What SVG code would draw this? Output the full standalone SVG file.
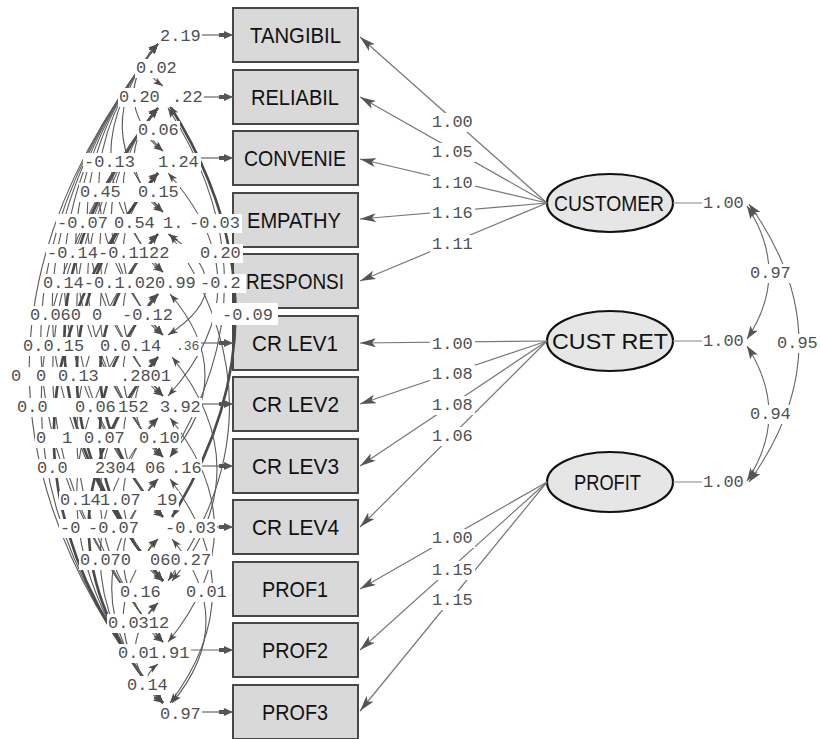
<svg xmlns="http://www.w3.org/2000/svg" width="820" height="739" viewBox="0 0 820 739">
<style>
.box{fill:#d9d9d9;stroke:#474747;stroke-width:2}
.lat{fill:#e6e6e6;stroke:#111;stroke-width:2.2}
.nt{font-family:"Liberation Sans",Arial,sans-serif;font-size:22px;fill:#111}
.arc{fill:none;stroke:#5c5c5c;stroke-width:1.1;marker-start:url(#ha);marker-end:url(#ha)}
.tk{stroke:#4a4a4a;stroke-width:2.6}
.ld{fill:none;stroke:#777;stroke-width:1.2;marker-end:url(#hl)}
.var{stroke:#666;stroke-width:1.2;marker-end:url(#hv)}
.stub{stroke:#9a9a9a;stroke-width:1.2}
.dbl{fill:none;stroke:#666;stroke-width:1.1;marker-start:url(#hd);marker-end:url(#hd)}
.num{font-family:"Liberation Mono","DejaVu Sans Mono",monospace;font-size:17px;fill:#505050}
.bg{fill:#fff}
</style>
<defs>
<marker id="ha" viewBox="0 0 10 7" refX="10" refY="3.5" markerWidth="10" markerHeight="7" markerUnits="userSpaceOnUse" orient="auto-start-reverse"><path d="M0,0 L10,3.5 L0,7 L2.5,3.5 z" fill="#4d4d4d"/></marker>
<marker id="hl" viewBox="0 0 16 9" refX="16" refY="4.5" markerWidth="16" markerHeight="9" markerUnits="userSpaceOnUse" orient="auto"><path d="M0,0 L16,4.5 L0,9 L4,4.5 z" fill="#555"/></marker>
<marker id="hv" viewBox="0 0 14 8" refX="14" refY="4" markerWidth="14" markerHeight="8" markerUnits="userSpaceOnUse" orient="auto"><path d="M0,2 H5 V0 L14,4 L5,8 V6 H0 z" fill="#555"/></marker>
<marker id="hd" viewBox="0 0 13 9" refX="13" refY="4.5" markerWidth="13" markerHeight="9" markerUnits="userSpaceOnUse" orient="auto-start-reverse"><path d="M0,0 L13,4.5 L0,9 L3,4.5 z" fill="#555"/></marker>
</defs>

<!-- observed indicators -->
<g id="n-tangibil"><rect class="box" x="233" y="8" width="125" height="54"/><text class="nt" x="250" y="43" textLength="91" lengthAdjust="spacingAndGlyphs">TANGIBIL</text></g>
<g id="n-reliabil"><rect class="box" x="233" y="70" width="125" height="54"/><text class="nt" x="251" y="105" textLength="88" lengthAdjust="spacingAndGlyphs">RELIABIL</text></g>
<g id="n-convenie"><rect class="box" x="233" y="131" width="125" height="54"/><text class="nt" x="244" y="166" textLength="102" lengthAdjust="spacingAndGlyphs">CONVENIE</text></g>
<g id="n-empathy"><rect class="box" x="233" y="193" width="125" height="54"/><text class="nt" x="247" y="228" textLength="94" lengthAdjust="spacingAndGlyphs">EMPATHY</text></g>
<g id="n-responsi"><rect class="box" x="233" y="254" width="125" height="54"/><text class="nt" x="246" y="289" textLength="98" lengthAdjust="spacingAndGlyphs">RESPONSI</text></g>
<g id="n-crlev1"><rect class="box" x="233" y="316" width="125" height="54"/><text class="nt" x="252" y="351" textLength="86" lengthAdjust="spacingAndGlyphs">CR LEV1</text></g>
<g id="n-crlev2"><rect class="box" x="233" y="377" width="125" height="54"/><text class="nt" x="252" y="412" textLength="87" lengthAdjust="spacingAndGlyphs">CR LEV2</text></g>
<g id="n-crlev3"><rect class="box" x="233" y="439" width="125" height="54"/><text class="nt" x="252" y="474" textLength="87" lengthAdjust="spacingAndGlyphs">CR LEV3</text></g>
<g id="n-crlev4"><rect class="box" x="233" y="500" width="125" height="54"/><text class="nt" x="252" y="535" textLength="87" lengthAdjust="spacingAndGlyphs">CR LEV4</text></g>
<g id="n-prof1"><rect class="box" x="233" y="562" width="125" height="54"/><text class="nt" x="262" y="597" textLength="66" lengthAdjust="spacingAndGlyphs">PROF1</text></g>
<g id="n-prof2"><rect class="box" x="233" y="623" width="125" height="54"/><text class="nt" x="262" y="658" textLength="66" lengthAdjust="spacingAndGlyphs">PROF2</text></g>
<g id="n-prof3"><rect class="box" x="233" y="685" width="125" height="54"/><text class="nt" x="262" y="720" textLength="66" lengthAdjust="spacingAndGlyphs">PROF3</text></g>

<!-- latent factors -->
<g id="n-customer"><ellipse class="lat" cx="610" cy="203" rx="63" ry="29"/><text class="nt" x="554" y="211" textLength="110" lengthAdjust="spacingAndGlyphs">CUSTOMER</text></g>
<g id="n-custret"><ellipse class="lat" cx="610" cy="341" rx="63" ry="30"/><text class="nt" x="552" y="349" textLength="116" lengthAdjust="spacingAndGlyphs">CUST RET</text></g>
<g id="n-profit"><ellipse class="lat" cx="610" cy="482" rx="63" ry="30"/><text class="nt" x="574" y="490" textLength="67" lengthAdjust="spacingAndGlyphs">PROFIT</text></g>

<g id="connectors">
<!-- error covariances, left side -->
<path class="arc" d="M158 44 Q132 65 163 86"/>
<path class="arc" d="M158 44 Q107 97 163 151"/>
<path class="arc" d="M158 44 Q84 128 163 212"/>
<path class="arc" d="M158 44 Q61 158 163 272"/>
<path class="arc" d="M158 44 Q37 190 163 335"/>
<path class="arc" d="M158 44 Q14 220 163 396"/>
<path class="arc" d="M158 44 Q-9 250 163 457"/>
<path class="arc" d="M158 44 Q-32 280 163 517"/>
<path class="arc" d="M158 44 Q-56 312 163 581"/>
<path class="arc" d="M158 44 Q-79 343 163 642"/>
<path class="arc" d="M158 44 Q-102 373 163 703"/>
<path class="arc" d="M158 108 Q132 130 163 151"/>
<path class="arc" d="M158 108 Q108 160 163 212"/>
<path class="arc" d="M158 108 Q86 190 163 272"/>
<path class="arc" d="M158 108 Q62 221 163 335"/>
<path class="arc" d="M158 108 Q39 252 163 396"/>
<path class="arc" d="M158 108 Q15 282 163 457"/>
<path class="arc" d="M158 108 Q-7 312 163 517"/>
<path class="arc tk" d="M158 108 Q-32 344 163 581"/>
<path class="arc" d="M158 108 Q-55 375 163 642"/>
<path class="arc" d="M158 108 Q-78 405 163 703"/>
<path class="arc" d="M158 173 Q133 192 163 212"/>
<path class="arc" d="M158 173 Q86 254 163 335"/>
<path class="arc" d="M158 173 Q40 315 163 457"/>
<path class="arc tk" d="M158 173 Q-7 377 163 581"/>
<path class="arc tk" d="M158 173 Q-53 438 163 703"/>
<path class="arc" d="M158 234 Q134 253 163 272"/>
<path class="arc" d="M158 234 Q86 315 163 396"/>
<path class="arc tk" d="M158 234 Q40 375 163 517"/>
<path class="arc" d="M158 234 Q-7 438 163 642"/>
<path class="arc" d="M158 294 Q132 314 163 335"/>
<path class="arc" d="M158 294 Q86 375 163 457"/>
<path class="arc tk" d="M158 294 Q39 437 163 581"/>
<path class="arc" d="M158 294 Q-7 498 163 703"/>
<path class="arc" d="M158 357 Q133 376 163 396"/>
<path class="arc" d="M158 357 Q110 407 163 457"/>
<path class="arc" d="M158 357 Q87 437 163 517"/>
<path class="arc" d="M158 357 Q40 500 163 642"/>
<path class="arc tk" d="M158 357 Q17 530 163 703"/>
<path class="arc" d="M158 418 Q133 437 163 457"/>
<path class="arc" d="M158 418 Q86 500 163 581"/>
<path class="arc" d="M158 418 Q40 560 163 703"/>
<path class="arc" d="M158 479 Q134 498 163 517"/>
<path class="arc" d="M158 479 Q86 560 163 642"/>
<path class="arc" d="M158 479 Q63 591 163 703"/>
<path class="arc" d="M158 539 Q132 560 163 581"/>
<path class="arc" d="M158 539 Q86 621 163 703"/>
<path class="arc" d="M158 603 Q133 622 163 642"/>
<path class="arc" d="M158 603 Q110 653 163 703"/>
<path class="arc" d="M158 664 Q133 683 163 703"/>
<!-- error covariances bowing right -->
<path class="arc tk" d="M170 106 Q300 312 172 517"/>
<path class="arc" d="M168 108 Q280 282 170 457"/>
<path class="arc" d="M168 173 Q268 285 168 396"/>
<path class="arc" d="M168 234 Q245 285 168 335"/>
<path class="arc" d="M170 234 Q290 408 168 581"/>
<path class="arc" d="M170 294 Q240 375 170 457"/>
<path class="arc" d="M172 357 Q262 469 172 581"/>
<path class="arc" d="M170 418 Q260 530 168 642"/>
<path class="arc" d="M170 479 Q255 591 170 703"/>
<path class="arc" d="M172 539 Q240 621 172 703"/>
<!-- error variances -->
<line class="var" x1="202" y1="35" x2="233" y2="35"/>
<line class="var" x1="204" y1="97" x2="233" y2="97"/>
<line class="var" x1="201" y1="158" x2="233" y2="158"/>
<line class="var" x1="201" y1="343" x2="233" y2="343"/>
<line class="var" x1="202" y1="404" x2="233" y2="404"/>
<line class="var" x1="202" y1="466" x2="233" y2="466"/>
<line class="var" x1="216" y1="527" x2="233" y2="527"/>
<line class="var" x1="190" y1="650" x2="233" y2="650"/>
<line class="var" x1="202" y1="712" x2="233" y2="712"/>
<!-- loadings -->
<line class="ld" x1="547" y1="203" x2="360" y2="37"/>
<line class="ld" x1="547" y1="203" x2="360" y2="97"/>
<line class="ld" x1="547" y1="203" x2="360" y2="159"/>
<line class="ld" x1="547" y1="203" x2="360" y2="219"/>
<line class="ld" x1="547" y1="203" x2="360" y2="281"/>
<line class="ld" x1="547" y1="341" x2="360" y2="343"/>
<line class="ld" x1="547" y1="341" x2="360" y2="404"/>
<line class="ld" x1="547" y1="341" x2="360" y2="466"/>
<line class="ld" x1="547" y1="341" x2="360" y2="527"/>
<line class="ld" x1="547" y1="482" x2="360" y2="589"/>
<line class="ld" x1="547" y1="482" x2="360" y2="650"/>
<line class="ld" x1="547" y1="482" x2="360" y2="711"/>
<!-- factor variances and correlations -->
<line class="stub" x1="673" y1="203" x2="702" y2="203"/>
<line class="stub" x1="673" y1="341" x2="702" y2="341"/>
<line class="stub" x1="673" y1="482" x2="702" y2="482"/>
<path class="dbl" d="M747 206 Q791 273 747 339"/>
<path class="dbl" d="M747 346 Q791 414 747 481"/>
<path class="dbl" d="M749 204 Q849 343 749 482"/>
</g>

<g id="labels">
<rect class="bg" x="159" y="27" width="43" height="19"/><text class="num" x="160" y="41">2.19</text>
<rect class="bg" x="135" y="59" width="43" height="19"/><text class="num" x="136" y="73">0.02</text>
<rect class="bg" x="118" y="88" width="86" height="19"/><text class="num" x="119" y="102">0.20</text><text class="num" x="172" y="102">.22</text>
<rect class="bg" x="137" y="121" width="43" height="19"/><text class="num" x="138" y="135">0.06</text>
<rect class="bg" x="83" y="153" width="118" height="19"/><text class="num" x="84" y="167">-0.13</text><text class="num" x="158" y="167">1.24</text>
<rect class="bg" x="79" y="183" width="101" height="19"/><text class="num" x="80" y="197">0.45</text><text class="num" x="138" y="197">0.15</text>
<rect class="bg" x="56" y="214" width="186" height="19"/><text class="num" x="57" y="228">-0.07</text><text class="num" x="114" y="228">0.54</text><text class="num" x="163" y="228">1.</text><text class="num" x="189" y="228">-0.03</text>
<rect class="bg" x="46" y="244" width="197" height="19"/><text class="num" x="47" y="258">-0.14-0.1122</text><text class="num" x="200" y="258">0.20</text>
<rect class="bg" x="42" y="274" width="204" height="19"/><text class="num" x="43" y="288">0.14-0.1.02</text><text class="num" x="155" y="288">0.99</text><text class="num" x="200" y="288">-0.2</text>
<rect class="bg" x="29" y="306" width="146" height="19"/><text class="num" x="30" y="320">0.060</text><text class="num" x="92" y="320">0</text><text class="num" x="122" y="320">-0.12</text>
<rect class="bg" x="212" y="303" width="66" height="22"/><text class="num" x="222" y="320">-0.09</text>
<rect class="bg" x="22" y="337" width="179" height="19"/><text class="num" x="23" y="351">0.0.15</text><text class="num" x="100" y="351">0.0.14</text><text class="num" x="176" y="350" style="font-size:13px">.36</text>
<rect class="bg" x="10" y="367" width="163" height="19"/><text class="num" x="11" y="381">0</text><text class="num" x="36" y="381">0</text><text class="num" x="58" y="381">0.13</text><text class="num" x="120" y="381">.2801</text>
<rect class="bg" x="16" y="398" width="186" height="19"/><text class="num" x="17" y="412">0.0</text><text class="num" x="75" y="412">0.06</text><text class="num" x="118" y="412">152</text><text class="num" x="160" y="412">3.92</text>
<rect class="bg" x="35" y="429" width="146" height="19"/><text class="num" x="36" y="443">0</text><text class="num" x="62" y="443">1</text><text class="num" x="84" y="443">0.07</text><text class="num" x="139" y="443">0.10</text>
<rect class="bg" x="36" y="459" width="166" height="19"/><text class="num" x="37" y="473">0.0</text><text class="num" x="95" y="473">2304</text><text class="num" x="145" y="473">06</text><text class="num" x="171" y="473">.16</text>
<rect class="bg" x="59" y="491" width="120" height="19"/><text class="num" x="60" y="505">0.14</text><text class="num" x="100" y="505">1.07</text><text class="num" x="157" y="505">19</text>
<rect class="bg" x="59" y="519" width="158" height="19"/><text class="num" x="60" y="533">-0</text><text class="num" x="88" y="533">-0.07</text><text class="num" x="165" y="533">-0.03</text>
<rect class="bg" x="79" y="551" width="133" height="19"/><text class="num" x="80" y="565">0.070</text><text class="num" x="150" y="565">060.27</text>
<rect class="bg" x="119" y="583" width="110" height="19"/><text class="num" x="120" y="597">0.16</text><text class="num" x="186" y="597">0.01</text>
<rect class="bg" x="107" y="614" width="64" height="19"/><text class="num" x="108" y="628">0.0312</text>
<rect class="bg" x="117" y="644" width="74" height="19"/><text class="num" x="118" y="658">0.01.91</text>
<rect class="bg" x="126" y="676" width="43" height="19"/><text class="num" x="127" y="690">0.14</text>
<rect class="bg" x="159" y="705" width="43" height="19"/><text class="num" x="160" y="719">0.97</text>
<!-- loading estimates -->
<rect class="bg" x="430" y="113" width="45" height="19"/><text class="num" x="432" y="127">1.00</text>
<rect class="bg" x="430" y="143" width="45" height="19"/><text class="num" x="432" y="157">1.05</text>
<rect class="bg" x="430" y="174" width="45" height="19"/><text class="num" x="432" y="188">1.10</text>
<rect class="bg" x="430" y="204" width="45" height="19"/><text class="num" x="432" y="218">1.16</text>
<rect class="bg" x="430" y="235" width="45" height="19"/><text class="num" x="432" y="249">1.11</text>
<rect class="bg" x="430" y="335" width="45" height="19"/><text class="num" x="432" y="349">1.00</text>
<rect class="bg" x="430" y="365" width="45" height="19"/><text class="num" x="432" y="379">1.08</text>
<rect class="bg" x="430" y="396" width="45" height="19"/><text class="num" x="432" y="410">1.08</text>
<rect class="bg" x="430" y="427" width="45" height="19"/><text class="num" x="432" y="441">1.06</text>
<rect class="bg" x="430" y="529" width="45" height="19"/><text class="num" x="432" y="543">1.00</text>
<rect class="bg" x="430" y="561" width="45" height="19"/><text class="num" x="432" y="575">1.15</text>
<rect class="bg" x="430" y="591" width="45" height="19"/><text class="num" x="432" y="605">1.15</text>
<!-- factor variances and correlations -->
<text class="num" x="703" y="208">1.00</text>
<text class="num" x="703" y="346">1.00</text>
<text class="num" x="703" y="487">1.00</text>
<rect class="bg" x="749" y="264" width="43" height="19"/><text class="num" x="750" y="278">0.97</text>
<rect class="bg" x="749" y="405" width="43" height="19"/><text class="num" x="750" y="419">0.94</text>
<rect class="bg" x="776" y="334" width="43" height="19"/><text class="num" x="777" y="348">0.95</text>
</g>
</svg>
